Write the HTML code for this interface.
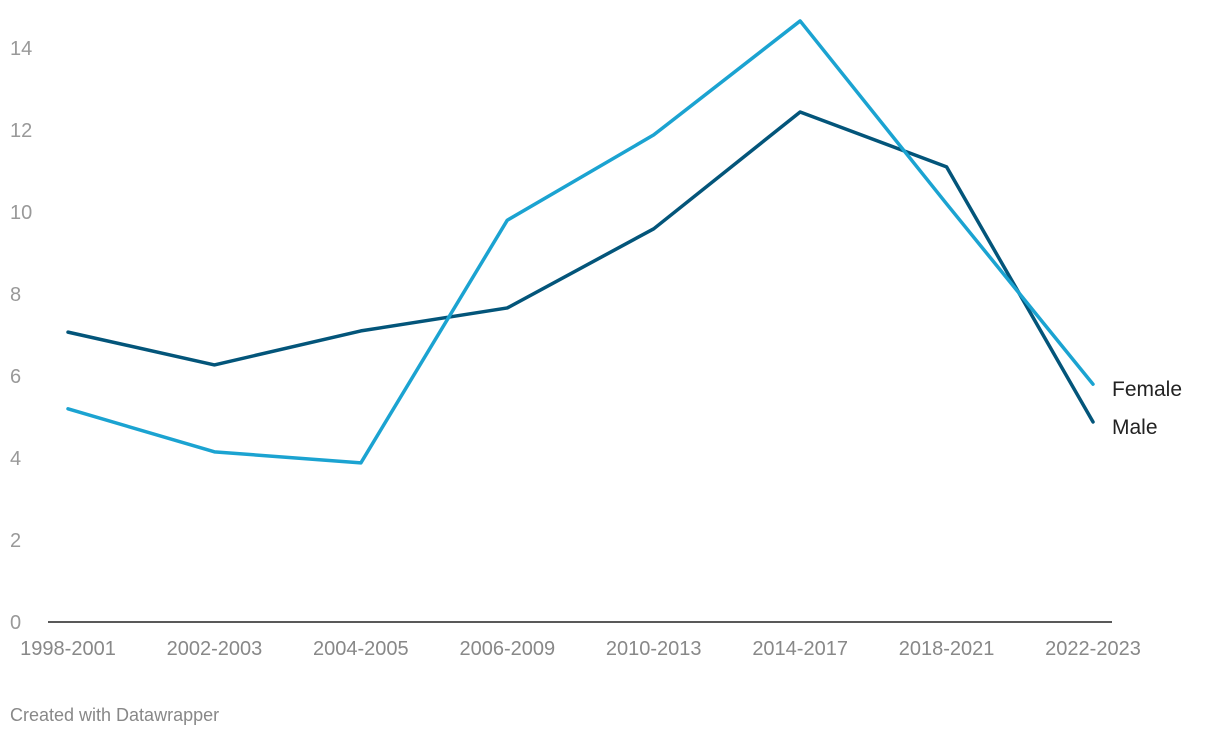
<!DOCTYPE html>
<html><head><meta charset="utf-8">
<style>
html,body{margin:0;padding:0;background:#fff;}
body{width:1220px;height:738px;overflow:hidden;font-family:"Liberation Sans",sans-serif;}
</style></head>
<body>
<svg id="chart" width="1220" height="738" xmlns="http://www.w3.org/2000/svg"></svg>
<script>
const categories = ["1998-2001","2002-2003","2004-2005","2006-2009","2010-2013","2014-2017","2018-2021","2022-2023"];
const femaleValues = [5.2, 4.15, 3.88, 9.8, 11.88, 14.66, 10.2, 5.8];
const maleValues = [7.07, 6.27, 7.1, 7.66, 9.59, 12.44, 11.1, 4.88];
const yTicks = [0, 2, 4, 6, 8, 10, 12, 14];

const svg = document.getElementById('chart');
const NS = 'http://www.w3.org/2000/svg';
const x0 = 68, xStep = (1093 - 68) / (categories.length - 1);
const xScale = i => x0 + i * xStep;
const yScale = v => 622 - v * 41;

function mk(tag, attrs, text) {
  const el = document.createElementNS(NS, tag);
  for (const k in attrs) el.setAttribute(k, attrs[k]);
  if (text !== undefined) el.textContent = text;
  svg.appendChild(el);
  return el;
}

yTicks.forEach(t => {
  const el = mk('text', {x: 10, y: yScale(t) + 7, 'font-size': 20, fill: '#999'}, String(t));
  
  
});

const axis = mk('line', {x1: 48, x2: 1112, y1: 622, y2: 622, stroke: '#222', 'stroke-width': 1.5});



categories.forEach((c, i) => {
  const el = mk('text', {x: xScale(i), y: 655, 'font-size': 20, fill: '#888', 'text-anchor': 'middle'}, c);
  
  
});

function drawLine(vals, color, name) {
  const d = vals.map((v, i) => (i ? 'L' : 'M') + xScale(i) + ',' + yScale(v)).join(' ');
  const p = mk('path', {d: d, fill: 'none', stroke: color, 'stroke-width': 3.5, 'stroke-linejoin': 'round', 'stroke-linecap': 'round'});
  
  
}
drawLine(maleValues, '#03557a', 'male-line');
drawLine(femaleValues, '#1ba3d1', 'female-line');

const lf = mk('text', {x: 1112, y: yScale(femaleValues[7]) + 12, 'font-size': 21, fill: '#222'}, 'Female');


const lm = mk('text', {x: 1112, y: yScale(maleValues[7]) + 12, 'font-size': 21, fill: '#222'}, 'Male');



const ft = mk('text', {x: 10, y: 721, 'font-size': 18, fill: '#888'}, 'Created with Datawrapper');


</script>
</body></html>
